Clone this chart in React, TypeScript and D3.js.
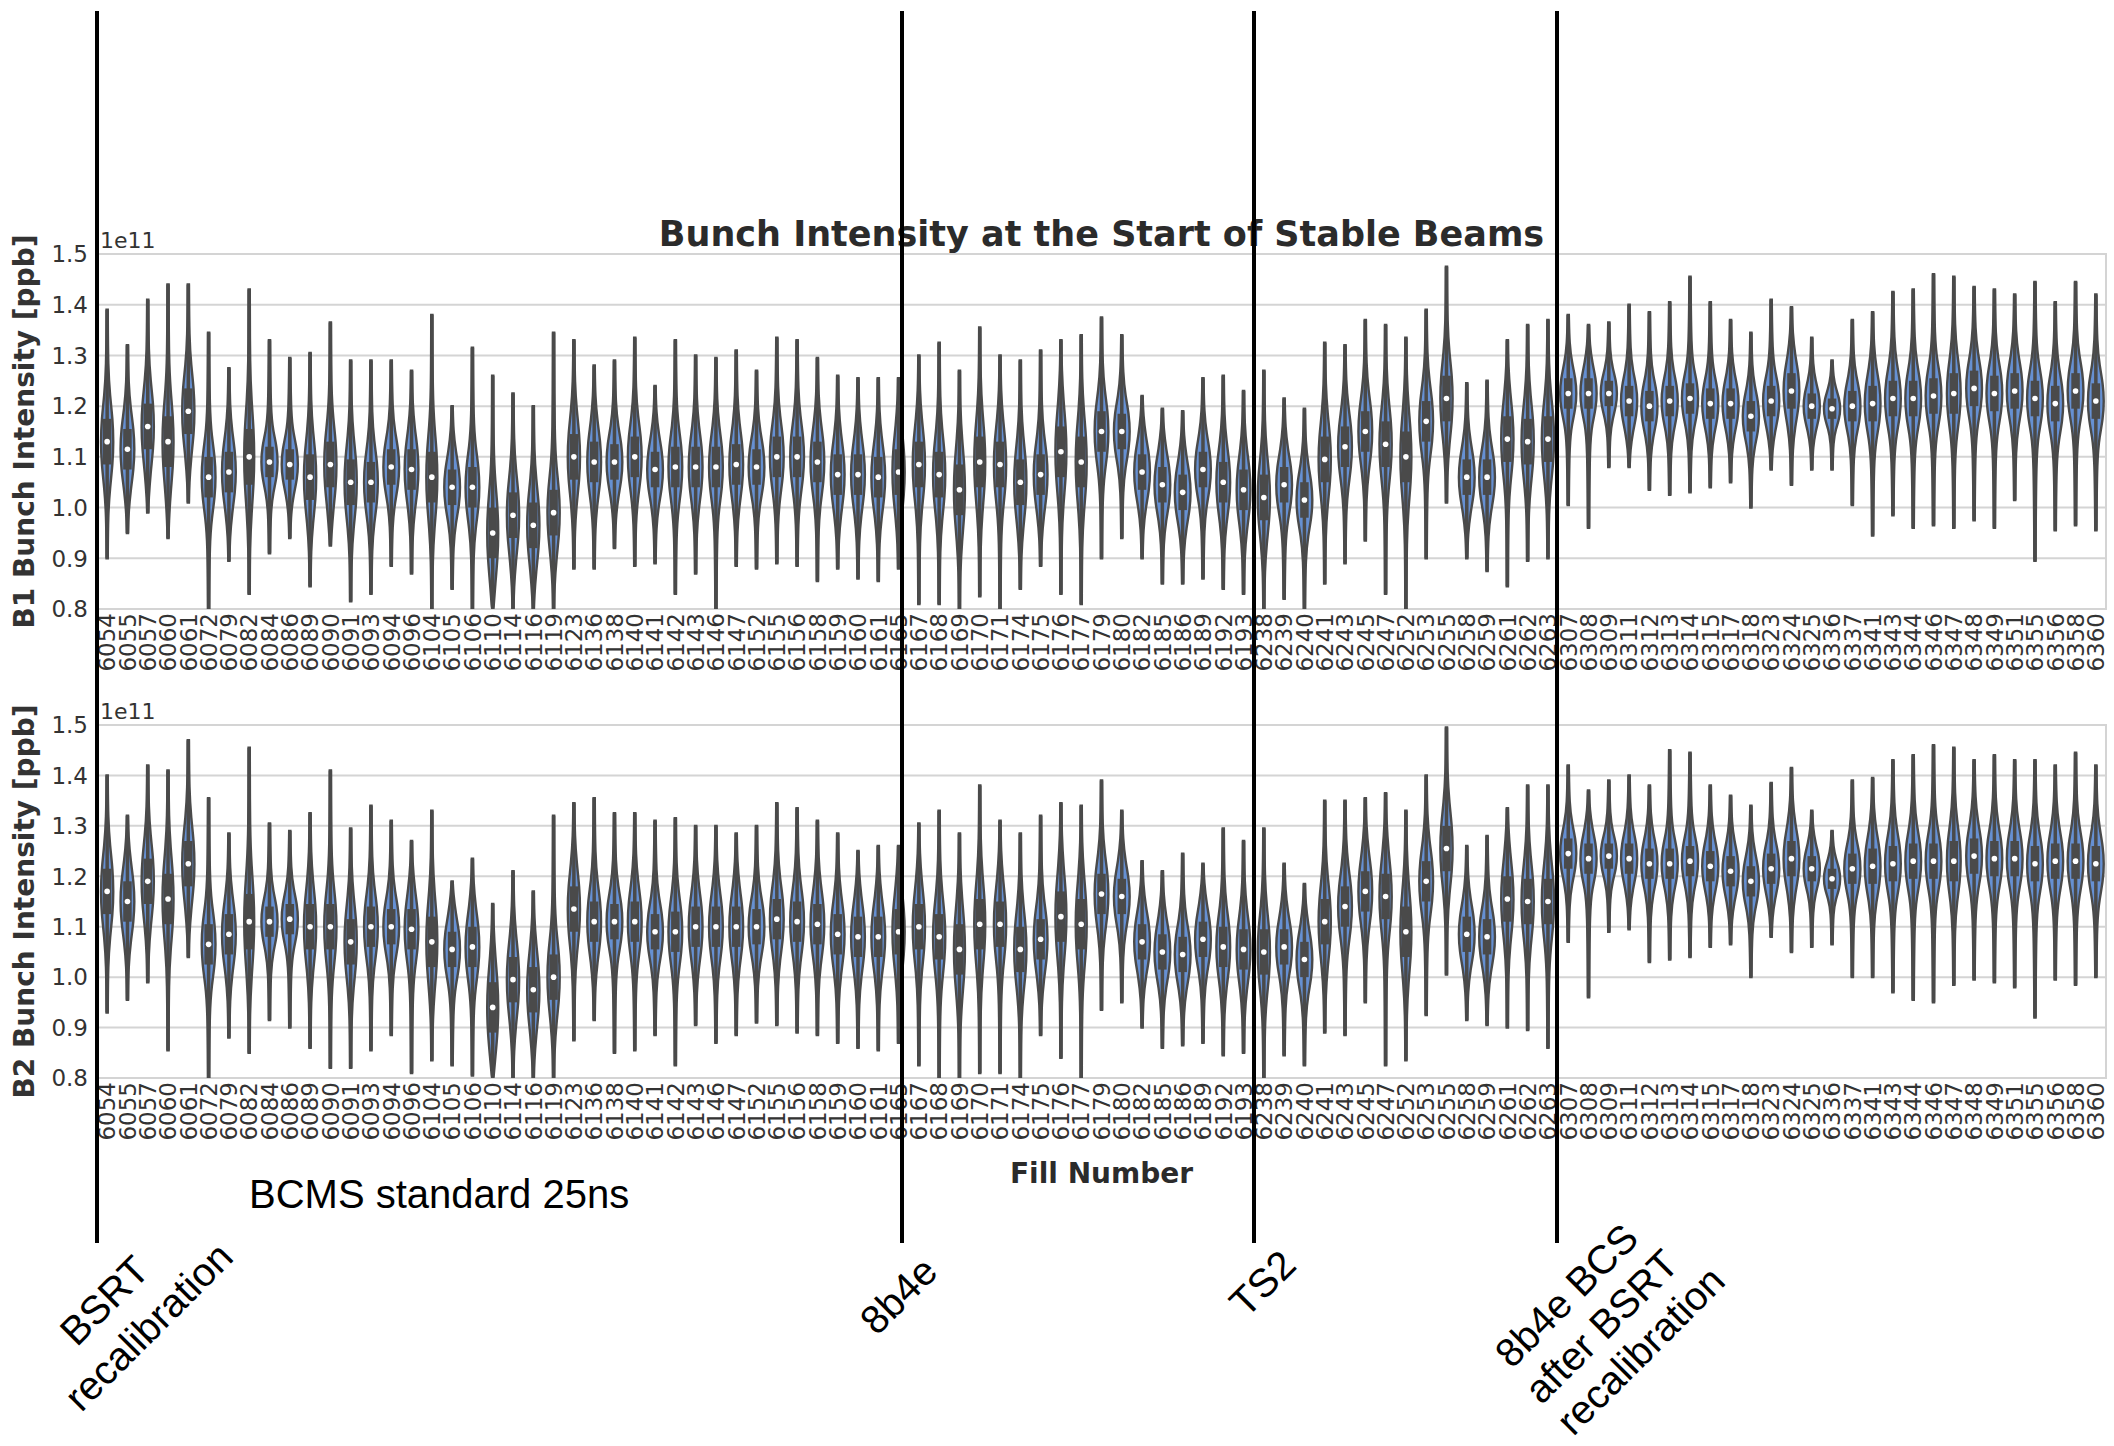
import React from "react";
import * as d3 from "d3";

const fills = [
  "6054","6055","6057","6060","6061","6072","6079","6082","6084","6086","6089","6090","6091","6093","6094","6096","6104","6105","6106","6110","6114","6116","6119","6123","6136","6138","6140","6141","6142","6143","6146","6147","6152","6155","6156","6158","6159","6160","6161","6165",
  "6167","6168","6169","6170","6171","6174","6175","6176","6177","6179","6180","6182","6185","6186","6189","6192","6193",
  "6238","6239","6240","6241","6243","6245","6247","6252","6253","6255","6258","6259","6261","6262","6263",
  "6307","6308","6309","6311","6312","6313","6314","6315","6317","6318","6323","6324","6325","6336","6337","6341","6343","6344","6346","6347","6348","6349","6351","6355","6356","6358","6360",
];

const yTicks = [0.8, 0.9, 1.0, 1.1, 1.2, 1.3, 1.4, 1.5];

// B1 (units of 1e11)
const b1Median = [
  1.13,1.115,1.16,1.13,1.19,1.06,1.07,1.10,1.09,1.085,1.06,1.085,1.05,1.05,1.08,1.075,1.06,1.04,1.04,0.95,0.985,0.965,0.99,1.10,1.09,1.09,1.10,1.075,1.08,1.08,1.08,1.085,1.08,1.10,1.10,1.09,1.065,1.065,1.06,1.07,
  1.085,1.065,1.035,1.09,1.085,1.05,1.065,1.11,1.09,1.15,1.15,1.07,1.045,1.03,1.075,1.05,1.035,
  1.02,1.045,1.015,1.095,1.12,1.15,1.125,1.10,1.17,1.215,1.06,1.06,1.135,1.13,1.135,
  1.225,1.225,1.225,1.21,1.20,1.21,1.215,1.205,1.205,1.18,1.21,1.23,1.20,1.195,1.20,1.205,1.215,1.215,1.22,1.225,1.235,1.225,1.23,1.215,1.205,1.23,1.21,
];
const b1Max = [
  1.39,1.32,1.41,1.44,1.44,1.345,1.275,1.43,1.33,1.295,1.305,1.365,1.29,1.29,1.29,1.27,1.38,1.20,1.315,1.26,1.225,1.20,1.345,1.33,1.28,1.29,1.335,1.24,1.33,1.30,1.295,1.31,1.27,1.335,1.33,1.295,1.26,1.255,1.255,1.255,
  1.30,1.325,1.27,1.355,1.30,1.29,1.31,1.33,1.34,1.375,1.34,1.22,1.195,1.19,1.255,1.26,1.23,
  1.27,1.215,1.195,1.325,1.32,1.37,1.36,1.335,1.39,1.475,1.245,1.25,1.33,1.36,1.37,
  1.38,1.36,1.365,1.40,1.385,1.405,1.455,1.405,1.37,1.345,1.41,1.395,1.335,1.29,1.37,1.385,1.425,1.43,1.46,1.455,1.435,1.43,1.42,1.445,1.405,1.445,1.42,
];
const b1Min = [
  0.90,0.95,0.99,0.94,1.01,0.80,0.895,0.83,0.91,0.94,0.845,0.925,0.815,0.83,0.885,0.87,0.80,0.84,0.80,0.80,0.80,0.80,0.80,0.88,0.88,0.92,0.885,0.89,0.83,0.87,0.80,0.885,0.88,0.89,0.885,0.855,0.88,0.86,0.855,0.88,
  0.81,0.81,0.80,0.825,0.80,0.84,0.885,0.83,0.81,0.90,0.94,0.90,0.85,0.85,0.86,0.84,0.83,
  0.80,0.82,0.80,0.85,0.89,0.935,0.83,0.80,0.90,1.01,0.90,0.875,0.845,0.895,0.90,
  1.005,0.96,1.08,1.08,1.035,1.025,1.03,1.04,1.05,1.00,1.075,1.045,1.075,1.075,1.005,0.945,0.985,0.96,0.965,0.96,0.975,0.96,1.015,0.895,0.955,0.965,0.955,
];
const b1Box = [
  0.045,0.04,0.045,0.05,0.045,0.04,0.04,0.055,0.03,0.03,0.045,0.045,0.045,0.04,0.035,0.04,0.05,0.035,0.04,0.05,0.045,0.045,0.045,0.045,0.04,0.035,0.04,0.035,0.04,0.04,0.04,0.04,0.035,0.04,0.04,0.04,0.04,0.04,0.04,0.045,
  0.045,0.045,0.05,0.05,0.045,0.045,0.04,0.05,0.05,0.04,0.035,0.035,0.035,0.035,0.035,0.04,0.04,
  0.045,0.035,0.035,0.045,0.04,0.04,0.045,0.05,0.04,0.045,0.035,0.035,0.045,0.045,0.045,
  0.03,0.03,0.025,0.03,0.03,0.03,0.03,0.03,0.03,0.03,0.03,0.035,0.025,0.02,0.03,0.035,0.035,0.035,0.035,0.04,0.035,0.035,0.035,0.035,0.035,0.035,0.035,
];

// B2 (units of 1e11)
const b2Median = [
  1.17,1.15,1.19,1.155,1.225,1.065,1.085,1.11,1.11,1.115,1.10,1.10,1.07,1.10,1.10,1.095,1.07,1.055,1.06,0.94,0.995,0.975,1.00,1.135,1.11,1.11,1.11,1.09,1.09,1.10,1.10,1.10,1.10,1.115,1.11,1.105,1.085,1.08,1.08,1.09,
  1.10,1.08,1.055,1.105,1.105,1.055,1.075,1.12,1.105,1.165,1.16,1.07,1.05,1.045,1.075,1.06,1.055,
  1.05,1.06,1.035,1.11,1.14,1.17,1.16,1.09,1.19,1.255,1.085,1.08,1.155,1.15,1.15,
  1.245,1.235,1.24,1.235,1.225,1.225,1.23,1.22,1.21,1.19,1.215,1.235,1.215,1.195,1.215,1.22,1.225,1.23,1.23,1.23,1.24,1.235,1.235,1.225,1.23,1.23,1.225,
];
const b2Max = [
  1.40,1.32,1.42,1.41,1.47,1.355,1.285,1.455,1.305,1.29,1.325,1.41,1.295,1.34,1.31,1.27,1.33,1.19,1.235,1.145,1.21,1.17,1.32,1.345,1.355,1.325,1.325,1.31,1.315,1.30,1.30,1.285,1.30,1.345,1.335,1.31,1.285,1.25,1.26,1.26,
  1.305,1.33,1.285,1.38,1.31,1.285,1.32,1.345,1.34,1.39,1.33,1.23,1.21,1.245,1.225,1.295,1.27,
  1.295,1.225,1.185,1.35,1.35,1.355,1.365,1.33,1.40,1.495,1.26,1.28,1.335,1.38,1.38,
  1.42,1.37,1.39,1.40,1.38,1.45,1.445,1.38,1.36,1.34,1.385,1.415,1.33,1.29,1.39,1.395,1.43,1.44,1.46,1.455,1.43,1.44,1.43,1.43,1.42,1.445,1.42,
];
const b2Min = [
  0.93,0.955,0.99,0.855,1.04,0.80,0.88,0.85,0.915,0.90,0.86,0.82,0.82,0.855,0.885,0.81,0.835,0.825,0.805,0.80,0.80,0.80,0.80,0.875,0.915,0.85,0.855,0.885,0.825,0.905,0.87,0.885,0.91,0.905,0.89,0.885,0.87,0.86,0.855,0.87,
  0.825,0.80,0.80,0.81,0.81,0.80,0.885,0.84,0.80,0.935,0.95,0.90,0.86,0.865,0.87,0.845,0.85,
  0.80,0.845,0.825,0.89,0.885,0.95,0.825,0.835,0.925,1.005,0.915,0.905,0.90,0.895,0.86,
  1.07,0.96,1.09,1.095,1.03,1.035,1.04,1.06,1.065,1.00,1.08,1.05,1.06,1.065,1.00,1.00,0.97,0.955,0.95,0.985,0.995,0.99,0.98,0.92,0.995,0.985,1.00,
];
const b2Box = [
  0.045,0.04,0.045,0.05,0.045,0.04,0.04,0.055,0.03,0.03,0.045,0.045,0.045,0.04,0.035,0.04,0.05,0.035,0.04,0.05,0.045,0.045,0.045,0.045,0.04,0.035,0.04,0.035,0.04,0.04,0.04,0.04,0.035,0.04,0.04,0.04,0.04,0.04,0.04,0.045,
  0.045,0.045,0.05,0.05,0.045,0.045,0.04,0.05,0.05,0.04,0.035,0.035,0.035,0.035,0.035,0.04,0.04,
  0.045,0.035,0.035,0.045,0.04,0.04,0.045,0.05,0.04,0.045,0.035,0.035,0.045,0.045,0.045,
  0.03,0.03,0.025,0.03,0.03,0.03,0.03,0.03,0.03,0.03,0.03,0.035,0.025,0.02,0.03,0.035,0.035,0.035,0.035,0.04,0.035,0.035,0.035,0.035,0.035,0.035,0.035,
];

// annotation separator lines (pixel x of the hand-drawn markers)
const markerXs = [97, 902, 1254, 1557];

const W = 2114, H = 1446;
const X0 = 97, X1 = 2106;
const GRID = "#d4d4d4";
const DARK = "#4a4a4a";
const BLUE = "#6690d2";
const TXT = "#333333";

const x = d3.scaleBand<string>().domain(fills).range([X0, X1]).padding(0);

type PanelProps = {
  id: string; top: number; bottom: number; label: string;
  med: number[]; mx: number[]; mn: number[]; box: number[];
};

function Panel({ id, top, bottom, label, med, mx, mn, box }: PanelProps) {
  const y = d3.scaleLinear().domain([0.8, 1.5]).range([bottom, top]);
  const area = d3
    .area<[number, number]>()
    .y((d) => y(d[0]))
    .x0((d) => -d[1])
    .x1((d) => d[1])
    .curve(d3.curveBasis);
  const bw = x.bandwidth();
  return (
    <g>
      <defs>
        <clipPath id={id}>
          <rect x={X0} y={top} width={X1 - X0} height={bottom - top} />
        </clipPath>
      </defs>
      {yTicks.map((t) => (
        <line key={t} x1={X0} x2={X1} y1={y(t)} y2={y(t)} stroke={GRID} strokeWidth={2} />
      ))}
      <rect x={X0} y={top} width={X1 - X0} height={bottom - top} fill="none" stroke={GRID} strokeWidth={2} />
      <g clipPath={`url(#${id})`}>
        {fills.map((f, i) => {
          const cx = (x(f) as number) + bw / 2;
          const b = box[i];
          const m = med[i];
          const w = Math.min(8.5, 0.29 / b);
          const pts: [number, number][] = [
            [mn[i], 0.6],
            [Math.max(mn[i], m - 3.2 * b), w * 0.14],
            [Math.max(mn[i], m - 2 * b), w * 0.45],
            [m - b, w * 0.85],
            [m, w],
            [m + b, w * 0.85],
            [Math.min(mx[i], m + 2 * b), w * 0.45],
            [Math.min(mx[i], m + 3.2 * b), w * 0.14],
            [mx[i], 0.6],
          ];
          return (
            <g key={f} transform={`translate(${cx},0)`}>
              <path d={area(pts) as string} fill={BLUE} stroke={DARK} strokeWidth={2.4} />
              <line x1={0} x2={0} y1={y(mn[i])} y2={y(mx[i])} stroke={DARK} strokeWidth={3.5} />
              <line x1={0} x2={0} y1={y(m - b)} y2={y(m + b)} stroke={DARK} strokeWidth={8.5} />
              <circle cx={0} cy={y(m)} r={2.8} fill="#ffffff" />
            </g>
          );
        })}
      </g>
      {yTicks.map((t) => (
        <text key={t} x={88} y={y(t)} dy="0.36em" textAnchor="end" fontSize={23} fill={TXT}
          fontFamily="DejaVu Sans">{t.toFixed(1)}</text>
      ))}
      <text x={X0 + 3} y={top - 6} fontSize={22} fill={TXT} fontFamily="DejaVu Sans">1e11</text>
      {fills.map((f) => {
        const cx = (x(f) as number) + bw / 2;
        return (
          <text key={f} transform={`translate(${cx},${bottom + 4}) rotate(-90)`} textAnchor="end" dy="0.36em"
            fontSize={23} fill={TXT} fontFamily="DejaVu Sans">{f}</text>
        );
      })}
      <text transform={`translate(24,${(top + bottom) / 2}) rotate(-90)`} textAnchor="middle" dy="0.36em"
        fontSize={28} fontWeight="bold" fill={TXT} fontFamily="DejaVu Sans">{label}</text>
    </g>
  );
}

export default function App() {
  const rot = (cx: number, cy: number, s: string) => (
    <text key={s + cx} transform={`translate(${cx},${cy}) rotate(-45)`} textAnchor="middle" dy="0.36em"
      fontSize={40} fill="#000" fontFamily="Liberation Sans, Arial, sans-serif">{s}</text>
  );
  return (
    <svg width={W} height={H} style={{ position: "absolute", left: 0, top: 0, background: "#fff" }}>
      <rect width={W} height={H} fill="#fff" />
      <text x={(X0 + X1) / 2} y={246} textAnchor="middle" fontSize={35} fontWeight="bold" fill="#2b2b2b"
        fontFamily="DejaVu Sans">Bunch Intensity at the Start of Stable Beams</text>
      <Panel id="c1" top={254} bottom={609} label="B1 Bunch Intensity [ppb]" med={b1Median} mx={b1Max} mn={b1Min} box={b1Box} />
      <Panel id="c2" top={725} bottom={1078} label="B2 Bunch Intensity [ppb]" med={b2Median} mx={b2Max} mn={b2Min} box={b2Box} />
      <text x={(X0 + X1) / 2} y={1183} textAnchor="middle" fontSize={28} fontWeight="bold" fill="#2b2b2b"
        fontFamily="DejaVu Sans">Fill Number</text>
      {markerXs.map((lx, i) => (
        <line key={i} x1={lx} x2={lx} y1={11} y2={1243} stroke="#000" strokeWidth={4} />
      ))}
      <text x={249} y={1208} fontSize={40} fill="#000" fontFamily="Liberation Sans, Arial, sans-serif">BCMS standard 25ns</text>
      {rot(104, 1300, "BSRT")}
      {rot(148, 1326, "recalibration")}
      {rot(898, 1295, "8b4e")}
      {rot(1262, 1283, "TS2")}
      {rot(1566, 1295, "8b4e BCS")}
      {rot(1601, 1326, "after BSRT")}
      {rot(1640, 1350, "recalibration")}
    </svg>
  );
}
